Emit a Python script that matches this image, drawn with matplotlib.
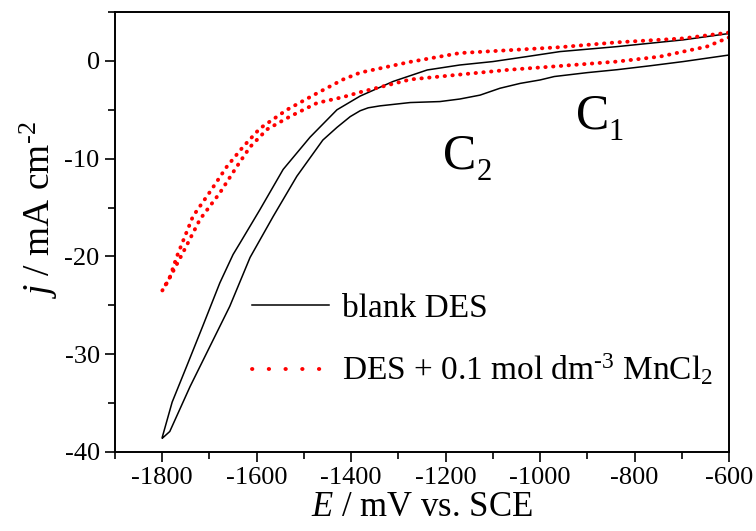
import matplotlib
matplotlib.use("Agg")
import matplotlib.pyplot as plt
from matplotlib.lines import Line2D
from matplotlib.ticker import MultipleLocator

plt.rcParams['font.family'] = ['Liberation Serif', 'DejaVu Serif']
plt.rcParams['mathtext.fontset'] = 'custom'
plt.rcParams['mathtext.rm'] = 'Liberation Serif'
plt.rcParams['mathtext.it'] = 'Liberation Serif:italic'
plt.rcParams['axes.unicode_minus'] = False

# blank DES: forward (cathodic) scan -600 -> -1800
blank_fwd_E = [-600, -697, -767, -837, -900, -970, -1000, -1042, -1085, -1127, -1170, -1212,
               -1275, -1339, -1364, -1381, -1402, -1430, -1460, -1515, -1565, -1614,
               -1657, -1699, -1741, -1784, -1800]
blank_fwd_j = [0.6, -0.07, -0.5, -0.9, -1.2, -1.6, -1.95, -2.3, -2.8, -3.5, -3.9, -4.16,
               -4.26, -4.6, -4.8, -5.1, -5.7, -6.8, -8.1, -11.8, -15.9, -20.1,
               -25.1, -29.2, -33.3, -37.9, -38.6]
# blank DES: reverse scan -1800 -> -600
blank_rev_E = [-1800, -1779, -1748, -1714, -1678, -1650, -1635, -1593, -1544, -1487, -1430,
               -1381, -1311, -1239, -1170, -1100, -1028, -958, -837, -697, -600]
blank_rev_j = [-38.5, -34.9, -31.2, -27.1, -22.7, -19.8, -18.6, -15.2, -11.1, -7.8, -5.0,
               -3.6, -2.1, -0.93, -0.42, -0.07, 0.44, 0.95, 1.46, 2.15, 2.8]

# DES + 0.1 mol dm-3 MnCl2: forward scan -600 -> -1800
mn_fwd_E = [-600, -647, -697, -746, -837, -979, -1064, -1170, -1275, -1381, -1417, -1472,
            -1530, -1578, -1614, -1642, -1678, -1720, -1756, -1780, -1800]
mn_fwd_j = [2.4, 1.46, 0.95, 0.44, -0.07, -0.6, -0.9, -1.4, -1.9, -3.2, -3.7, -4.3,
            -5.7, -7.0, -8.8, -10.8, -13.5, -16.2, -19.6, -21.8, -23.5]
# reverse scan -1800 -> -600
mn_rev_E = [-1800, -1785, -1769, -1735, -1699, -1663, -1629, -1593, -1536, -1472, -1417,
            -1381, -1275, -1170, -1064, -958, -837, -697, -600]
mn_rev_j = [-23.5, -22.3, -20.0, -15.9, -13.4, -10.8, -8.8, -6.9, -5.0, -3.3, -1.9,
            -1.2, -0.1, 0.8, 1.1, 1.4, 1.9, 2.3, 2.9]

fig = plt.figure(figsize=(7.56, 5.31), dpi=100)
ax = fig.add_axes([115/756, 1-452/531, (729-115)/756, (452-12)/531])

ax.plot(blank_fwd_E + blank_rev_E, blank_fwd_j + blank_rev_j, color='black', lw=1.1)
ax.plot(mn_fwd_E + mn_rev_E, mn_fwd_j + mn_rev_j, color='red', lw=2.8,
        ls=(0, (0.1, 1.9)), dash_capstyle='round')

ax.set_xlim(-1900, -600)
ax.set_ylim(-40, 5)
ax.xaxis.set_major_locator(MultipleLocator(200))
ax.xaxis.set_minor_locator(MultipleLocator(100))
ax.yaxis.set_major_locator(MultipleLocator(10))
ax.yaxis.set_minor_locator(MultipleLocator(5))
ax.tick_params(which='both', direction='out', top=False, right=False, labelsize=19,
               width=1.2, pad=4)
ax.tick_params(which='major', length=7)
ax.tick_params(which='minor', length=5)
for s in ax.spines.values():
    s.set_linewidth(1.4)

ax.set_xlabel(r'$E$ / mV vs. SCE', fontsize=25, labelpad=1)
ax.set_ylabel(r'$j$ / mA cm$^{\text{-}2}$', fontsize=27)
ax.yaxis.set_label_coords(-0.09, 0.55)

ax.text(-1205, -9.8, 'C', fontsize=36, ha='left', va='center')
ax.text(-1134, -11.4, '2', fontsize=22, ha='left', va='center')
ax.text(-925, -5.7, 'C', fontsize=36, ha='left', va='center')
ax.text(-855, -7.3, '1', fontsize=22, ha='left', va='center')

handles = [Line2D([], [], color='black', lw=1.1),
           Line2D([], [], color='red', lw=2.8, ls=(0, (0.1, 4.2)), dash_capstyle='round')]
labels = ['blank DES', r'DES + 0.1 mol dm$^{\text{-}3}$ MnCl$_2$']
ax.legend(handles, labels, loc='lower left', bbox_to_anchor=(0.175, 0.078), frameon=False,
          fontsize=24, handlelength=2.3, handletextpad=0.4, labelspacing=0.85)

fig.savefig('out.png', dpi=100)
